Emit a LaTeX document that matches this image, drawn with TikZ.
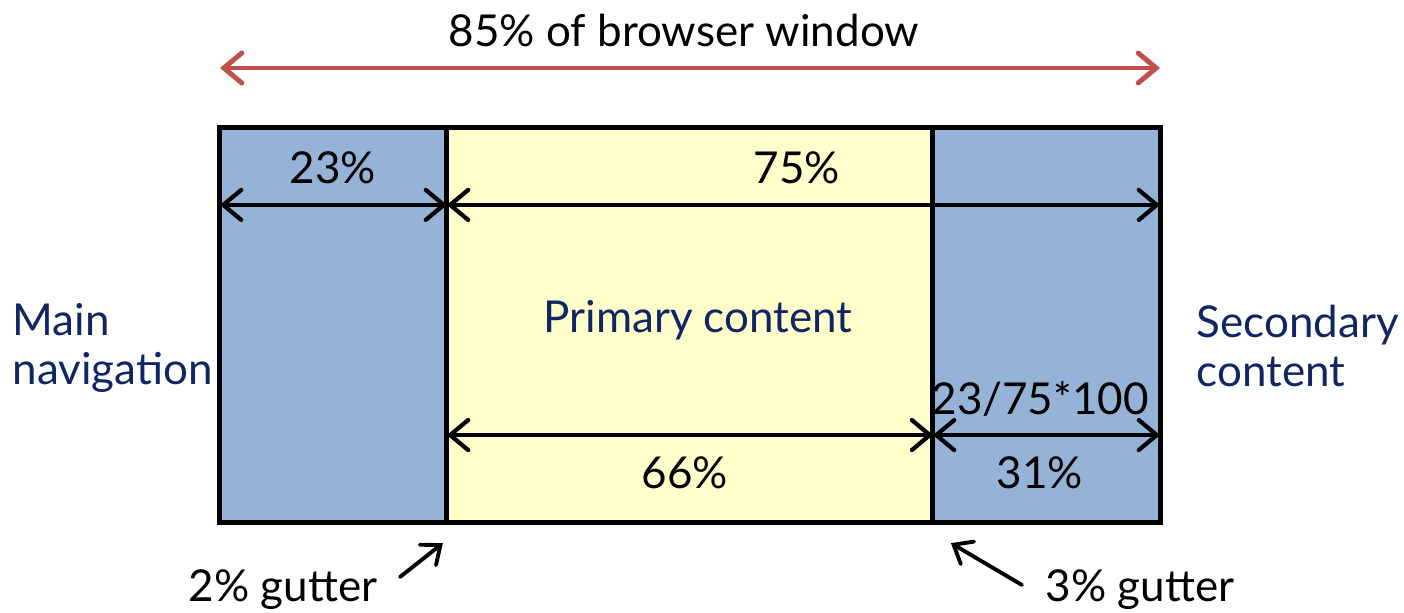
\documentclass[tikz,border=0pt]{standalone}
\usepackage{fontspec}
\setmainfont{Lato}
\usetikzlibrary{arrows.meta,positioning}
\definecolor{navblue}{RGB}{149,179,215}
\definecolor{mainyel}{RGB}{255,255,204}
\definecolor{widthred}{RGB}{192,80,77}
\definecolor{labnavy}{RGB}{16,37,100}

\begin{document}
\begin{tikzpicture}[
  x=0.01cm, y=-0.01cm,
  every node/.style={font=\fontsize{12.5}{14.2}\selectfont},
  col/.style={draw=black, line width=1.4pt, minimum height=3.94cm, inner sep=0pt, outer sep=0pt},
  dim/.style={{Straight Barb[length=0.18cm, width=0.3cm, line cap=round]}-{Straight Barb[length=0.18cm, width=0.3cm, line cap=round]}, line width=1.2pt, line cap=round},
  span/.style={dim, draw=widthred, line width=1.4pt},
  pointer/.style={-{Straight Barb[length=0.16cm, width=0.26cm, line cap=round]}, line width=1.1pt, line cap=round},
  side/.style={text=labnavy, align=left, anchor=west, inner sep=0pt}
]
\useasboundingbox (0,0) rectangle (1404,613);
% columns
\node[col, fill=navblue, minimum width=2.27cm] (nav) at (333.5,325) {};
\node[col, fill=mainyel, minimum width=4.86cm] (main) at (690,325) {};
\node[col, fill=navblue, minimum width=2.27cm] (sec) at (1046.5,325) {};
\draw[line width=1.4pt] (nav.north west) rectangle (sec.south east);
% overall width
\coordinate (wl) at (220,68);
\coordinate (wr) at (1160,68);
\draw[span] (wl) -- (wr);
\node (total) at (684,31) {85\% of browser window};
% widths of the outer columns
\draw[dim] ([yshift=-0.77cm]nav.north west) -- ([yshift=-0.77cm]nav.north east);
\draw[dim] ([yshift=-0.77cm]main.north west) -- ([yshift=-0.77cm]sec.north east);
\node (navpct) at (333,168) {23\%};
\node (outpct) at (797,168) {75\%};
% widths inside the 75%
\draw[dim] ([yshift=0.87cm]main.south west) -- ([yshift=0.87cm]main.south east);
\draw[dim] ([yshift=0.87cm]sec.south west) -- ([yshift=0.87cm]sec.south east);
\node (calc) at (1040,399) {23/75*100};
\node (mainpct) at (685,473) {66\%};
\node (secpct) at (1040,473) {31\%};
% labels
\node[text=labnavy] (prim) at (698,320) {Primary content};
\node[side] (navlab) at (12,348) {Main\\navigation};
\node[side] (seclab) at (1196,346) {Secondary\\content};
% gutters
\node (g2) at (283,590) {2\% gutter};
\node (g3) at (1140,590) {3\% gutter};
\coordinate (g2a) at (400,577);
\coordinate (g3a) at (1022,585);
\draw[pointer] (g2a) -- ([shift={(-0.04cm,-0.21cm)}]main.south west);
\draw[pointer] (g3a) -- ([shift={(0.18cm,-0.21cm)}]sec.south west);
\end{tikzpicture}
\end{document}
